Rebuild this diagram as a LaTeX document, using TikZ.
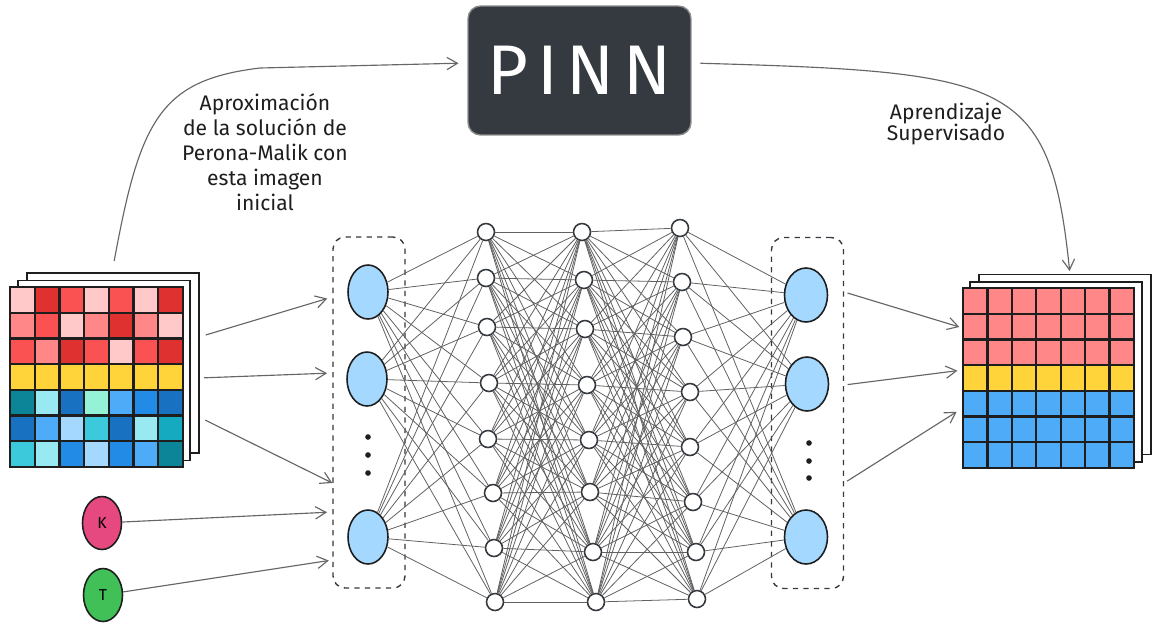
\documentclass[tikz,border=0pt]{standalone}
\usepackage{fontspec}
\setmainfont{Fira Sans}
\usepackage{xcolor}
\definecolor{exInk}{HTML}{1E1E1E}
\definecolor{exDark}{HTML}{343A40}
\definecolor{exPink}{HTML}{FFC9C9}
\definecolor{exRedDk}{HTML}{E03131}
\definecolor{exRed}{HTML}{FA5252}
\definecolor{exSalmon}{HTML}{FF8787}
\definecolor{exYellow}{HTML}{FFD43B}
\definecolor{exTealDk}{HTML}{0C8599}
\definecolor{exTeal}{HTML}{15AABF}
\definecolor{exCyan}{HTML}{3BC9DB}
\definecolor{exCyanLt}{HTML}{99E9F2}
\definecolor{exMint}{HTML}{96F2D7}
\definecolor{exBlueDk}{HTML}{1971C2}
\definecolor{exBlue}{HTML}{228BE6}
\definecolor{exBlueLt}{HTML}{4DABF7}
\definecolor{exBluePl}{HTML}{A5D8FF}
\definecolor{exMagenta}{HTML}{E64980}
\definecolor{exGreen}{HTML}{40C057}
\usetikzlibrary{arrows.meta, shapes.geometric, positioning, calc}

\begin{document}
\begin{tikzpicture}[x=0.02cm, y=-0.02cm,
  pinn/.style={rectangle, rounded corners=0.25cm, draw=black!45, line width=0.8pt,
    fill=exDark, text=white, minimum width=4.46cm, minimum height=2.58cm,
    font=\fontsize{40}{40}\selectfont},
  lbl/.style={align=center, text=exInk, font=\fontsize{12}{14.2}\selectfont},
  sheet/.style={rectangle, draw=exInk, line width=0.8pt, fill=white,
    minimum width=3.44cm, minimum height=3.6cm, inner sep=0pt, outer sep=0pt},
  cell/.style={draw=exInk, line width=1.3pt},
  box/.style={rectangle, rounded corners=0.24cm, draw=exDark, dashed, line width=0.8pt,
    minimum width=1.44cm, minimum height=7.02cm},
  neu/.style={ellipse, draw=exInk, line width=0.9pt, fill=exBluePl,
    minimum width=0.8cm, minimum height=1.08cm, inner sep=0pt},
  hid/.style={circle, draw=exDark, line width=0.9pt, fill=white,
    minimum size=0.34cm, inner sep=0pt},
  par/.style={ellipse, draw=exInk, line width=0.9pt,
    minimum width=0.78cm, minimum height=1.06cm, inner sep=0pt, font=\small},
  fl/.style={black!62, line width=0.45pt},
  fa/.style={-{Straight Barb[length=6pt, width=7pt]}, black!60, line width=0.65pt}
]
\useasboundingbox (0,0) rectangle (1153,623);
\fill[white] (0,0) rectangle (1153,623);

%% ── PINN y etiquetas ─────────────────────────────────────────────────
\node[pinn] (PINN) at (579.5,70.5) {P\hspace{5pt}I\hspace{5pt}N\hspace{5pt}N};
\node[lbl] (lblA) at (265,152)
  {Aproximación\\de la solución de\\Perona-Malik con\\esta imagen\\inicial};
\node[lbl, font=\fontsize{12}{12.5}\selectfont] (lblS) at (946,124)
  {Aprendizaje\\Supervisado};

%% ── Imagen inicial (izquierda) ───────────────────────────────────────
\node[sheet] (sheetL2) at (113,363) {};
\node[sheet] (sheetL1) at (104,370.5) {};
\foreach \row [count=\r from 0] in {
    {exPink,exRedDk,exRed,exPink,exRed,exPink,exRedDk},
    {exSalmon,exRed,exPink,exSalmon,exRedDk,exSalmon,exPink},
    {exRed,exSalmon,exRedDk,exRed,exPink,exRed,exRedDk},
    {exYellow,exYellow,exYellow,exYellow,exYellow,exYellow,exYellow},
    {exTealDk,exCyanLt,exBlueDk,exMint,exBlueLt,exBlue,exBlueDk},
    {exBlueDk,exBlueLt,exBluePl,exCyan,exBlueDk,exCyanLt,exTeal},
    {exCyan,exCyanLt,exBlue,exBluePl,exBlue,exBlueLt,exTealDk}}
  \foreach \cc [count=\k from 0] in \row
    \draw[cell, fill=\cc] (10+24.7*\k, 287+25.7*\r) rectangle ++(24.7,25.7);

%% ── Imagen de salida (derecha) ───────────────────────────────────────
\node[sheet] (sheetR2) at (1065,364.5) {};
\node[sheet] (sheetR1) at (1056,372) {};
\node[minimum width=3.42cm, minimum height=3.6cm, inner sep=0pt] (gridR) at (1048.5,378) {};
\foreach \cc [count=\r from 0] in
    {exSalmon,exSalmon,exSalmon,exYellow,exBlueLt,exBlueLt,exBlueLt}
  \foreach \k in {0,...,6}
    \draw[cell, fill=\cc] (963+24.43*\k, 288+25.7*\r) rectangle ++(24.43,25.7);

%% ── Parámetros K y T ─────────────────────────────────────────────────
\node[par, fill=exMagenta] (K) at (102,523) {K};
\node[par, fill=exGreen]   (T) at (103,595) {T};

%% ── Capa de entrada ──────────────────────────────────────────────────
\node[box] (inbox) at (369,412.5) {};
\node[neu] (in1) at (368,292) {};
\node[neu] (in2) at (367,379) {};
\node[neu] (in3) at (368,537) {};
\foreach \y in {437,455,473} \fill[exInk] (368,\y) circle (1.6pt);

%% ── Capas ocultas ────────────────────────────────────────────────────
\foreach \x/\y [count=\i] in {486/232,486/278,487/327,489/383,
                               488/439,493/493,494/548,495/602}
  \node[hid] (a\i) at (\x,\y) {};
\foreach \x/\y [count=\i] in {582/232,584/280,585/329,587/385,
                               589/440,590/492,593/552,596/602}
  \node[hid] (b\i) at (\x,\y) {};
\foreach \x/\y [count=\i] in {680/228,682/282,683/337,690/392,
                               690/447,693/502,696/552,697/599}
  \node[hid] (c\i) at (\x,\y) {};

%% ── Capa de salida ───────────────────────────────────────────────────
\node[box] (outbox) at (807.5,413) {};
\node[neu, minimum width=0.86cm] (o1) at (806,295) {};
\node[neu, minimum width=0.86cm] (o2) at (807,384) {};
\node[neu, minimum width=0.86cm] (o3) at (806,537) {};
\foreach \y in {443,461,478} \fill[exInk] (809,\y) circle (1.6pt);

%% ── Conexiones de la red ─────────────────────────────────────────────
\foreach \i in {1,2,3} \foreach \j in {1,...,8} \draw[fl] (in\i) -- (a\j);
\foreach \i in {1,...,8} \foreach \j in {1,...,8} {
  \draw[fl] (a\i) -- (b\j);
  \draw[fl] (b\i) -- (c\j);
}
\foreach \i in {1,...,8} \foreach \j in {1,2,3} \draw[fl] (c\i) -- (o\j);

%% ── Flechas ──────────────────────────────────────────────────────────
\draw[fa, shorten <=4pt, shorten >=3pt] (sheetL2.east |- 0,337) -- (inbox.west |- 0,297);
\draw[fa, shorten <=3pt, shorten >=3pt] (sheetL2.east |- 0,378) -- (inbox.west |- 0,373);
\draw[fa, shorten <=4pt] (sheetL2.east |- 0,417) -- (inbox.west |- 0,483);
\draw[fa, shorten >=3pt] (K) -- (inbox.west |- 0,512);
\draw[fa, shorten >=2pt] (T) -- (inbox.west |- 0,560);

\draw[fa, shorten <=2pt, shorten >=2pt] (outbox.east |- 0,292) -- (gridR.west |- 0,328);
\draw[fa, shorten <=2pt, shorten >=3pt] (outbox.east |- 0,385) -- (gridR.west |- 0,370);
\draw[fa, shorten <=2pt, shorten >=4pt] (outbox.east |- 0,483) -- (gridR.west |- 0,408);

\draw[fa, shorten <=7pt, shorten >=5pt] (sheetL2.north -| 112,0)
  .. controls (140,120) and (160,80) .. (260,68) -- (PINN.west |- 0,63);
\draw[fa, shorten <=5pt, shorten >=2pt] (PINN.east |- 0,63)
  .. controls (1010,72) and (1050,80) .. (sheetR2.north -| 1070,0);

\end{tikzpicture}
\end{document}
